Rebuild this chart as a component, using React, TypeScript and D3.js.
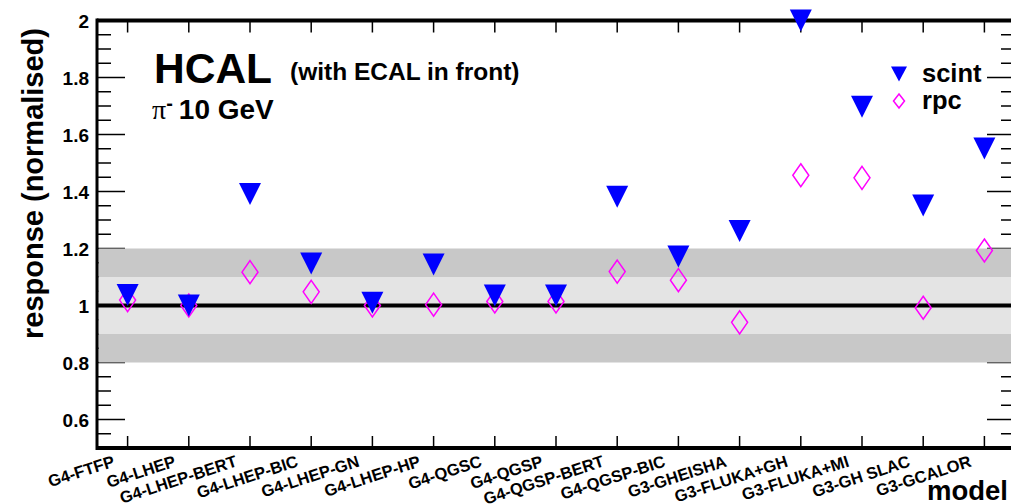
import React from "react";
import * as d3 from "d3";

const models = [
  "G4-FTFP",
  "G4-LHEP",
  "G4-LHEP-BERT",
  "G4-LHEP-BIC",
  "G4-LHEP-GN",
  "G4-LHEP-HP",
  "G4-QGSC",
  "G4-QGSP",
  "G4-QGSP-BERT",
  "G4-QGSP-BIC",
  "G3-GHEISHA",
  "G3-FLUKA+GH",
  "G3-FLUKA+MI",
  "G3-GH SLAC",
  "G3-GCALOR",
];
const scint = [1.037, 1.0, 1.391, 1.147, 1.01, 1.144, 1.035, 1.035, 1.382, 1.172, 1.261, 2.0, 1.697, 1.351, 1.551];
const rpc = [1.019, 1.0, 1.117, 1.048, 1.0, 1.003, 1.014, 1.014, 1.119, 1.089, 0.941, 1.457, 1.448, 0.992, 1.193];
const yMajor = [0.6, 0.8, 1, 1.2, 1.4, 1.6, 1.8, 2];
const bands = [
  { lo: 0.8, hi: 1.2, fill: "#c8c8c8" },
  { lo: 0.9, hi: 1.1, fill: "#e4e4e4" },
];

const W = 1011;
const H = 504;
const left = 97;
const right = 1015;
const top = 20.5;
const bottom = 448;
const font = "'Liberation Sans', Arial, Helvetica, sans-serif";

const triDown = (w: number, h: number) =>
  `M${-w / 2},${-h / 2}L${w / 2},${-h / 2}L0,${h / 2}Z`;
const diamond = (w: number, h: number) =>
  `M0,${-h / 2}L${w / 2},0L0,${h / 2}L${-w / 2},0Z`;

export default function App() {
  const x = d3.scaleBand().domain(models).range([left, right]).padding(0);
  const cx = (m: string) => (x(m) as number) + x.bandwidth() / 2;
  const y = d3.scaleLinear().domain([0.5, 2]).range([bottom, top]);

  const yMinor = d3.range(0.55, 2.0001, 0.05).filter(
    (v) => !yMajor.some((m) => Math.abs(m - v) < 1e-6)
  );

  return (
    <svg
      width={W}
      height={H}
      style={{ position: "absolute", left: 0, top: 0, background: "#fff" }}
      fontFamily={font}
      fontWeight="bold"
    >
      {/* y ticks left and right */}
      <g stroke="#000" strokeWidth={1.5}>
        {yMajor.map((v) => (
          <g key={"M" + v}>
            <line x1={left} x2={left + 28} y1={y(v)} y2={y(v)} />
            <line x1={right - 28} x2={right} y1={y(v)} y2={y(v)} />
          </g>
        ))}
        {yMinor.map((v) => (
          <g key={"m" + v}>
            <line x1={left} x2={left + 14} y1={y(v)} y2={y(v)} />
            <line x1={right - 14} x2={right} y1={y(v)} y2={y(v)} />
          </g>
        ))}
        {models.map((m) => (
          <g key={"t" + m}>
            <line x1={cx(m)} x2={cx(m)} y1={bottom} y2={bottom - 12} />
            <line x1={cx(m)} x2={cx(m)} y1={top} y2={top + 12} />
          </g>
        ))}
      </g>

      {/* reference bands */}
      {bands.map((b) => (
        <rect
          key={b.lo}
          x={left + 1.5}
          width={right - left}
          y={y(b.hi)}
          height={y(b.lo) - y(b.hi)}
          fill={b.fill}
        />
      ))}
      <line x1={left} x2={right} y1={y(1)} y2={y(1)} stroke="#000" strokeWidth={4} />

      {/* frame */}
      <line x1={left} x2={left} y1={top - 2} y2={bottom + 2} stroke="#000" strokeWidth={3} />
      <line x1={left} x2={right} y1={top} y2={top} stroke="#000" strokeWidth={4} />
      <line x1={left} x2={right} y1={bottom} y2={bottom} stroke="#000" strokeWidth={4} />

      {/* y tick labels */}
      {yMajor.map((v) => (
        <text key={"l" + v} x={89} y={y(v) + 7} textAnchor="end" fontSize={19}>
          {d3.format("~g")(v)}
        </text>
      ))}

      {/* x labels */}
      {models.map((m) => (
        <text
          key={"xl" + m}
          transform={`translate(${cx(m) - 12},466) rotate(-18)`}
          textAnchor="end"
          fontSize={16.5}
        >
          {m}
        </text>
      ))}

      {/* axis titles */}
      <text
        transform={`translate(43,28) rotate(-90)`}
        textAnchor="end"
        fontSize={29}
      >
        response (normalised)
      </text>
      <text x={1008} y={500} textAnchor="end" fontSize={27.5}>
        model
      </text>

      {/* markers */}
      {models.map((m, i) => (
        <path
          key={"r" + m}
          d={diamond(16, 23)}
          transform={`translate(${cx(m)},${y(rpc[i])})`}
          fill="none"
          stroke="#ff00ff"
          strokeWidth={1.5}
        />
      ))}
      {models.map((m, i) => (
        <path
          key={"s" + m}
          d={triDown(22, 22)}
          transform={`translate(${cx(m)},${y(scint[i])})`}
          fill="#0000ff"
        />
      ))}

      {/* annotations */}
      <text x={154} y={83} fontSize={42.5}>
        HCAL
      </text>
      <text x={290} y={80} fontSize={24.5}>
        (with ECAL in front)
      </text>
      <text x={152} y={119} fontSize={28}>
        <tspan fontFamily="'Liberation Serif', 'Times New Roman', serif" fontWeight="normal">
          π
        </tspan>
        <tspan dy={-9} fontSize={20}>
          -
        </tspan>
        <tspan dy={9} dx={6}>
          10 GeV
        </tspan>
      </text>

      {/* legend */}
      <path d={triDown(16, 15)} transform="translate(899,74)" fill="#0000ff" />
      <text x={922} y={82} fontSize={25.5}>
        scint
      </text>
      <path
        d={diamond(11, 14)}
        transform="translate(899,101)"
        fill="none"
        stroke="#ff00ff"
        strokeWidth={1.5}
      />
      <text x={922} y={109} fontSize={25.5}>
        rpc
      </text>
    </svg>
  );
}
